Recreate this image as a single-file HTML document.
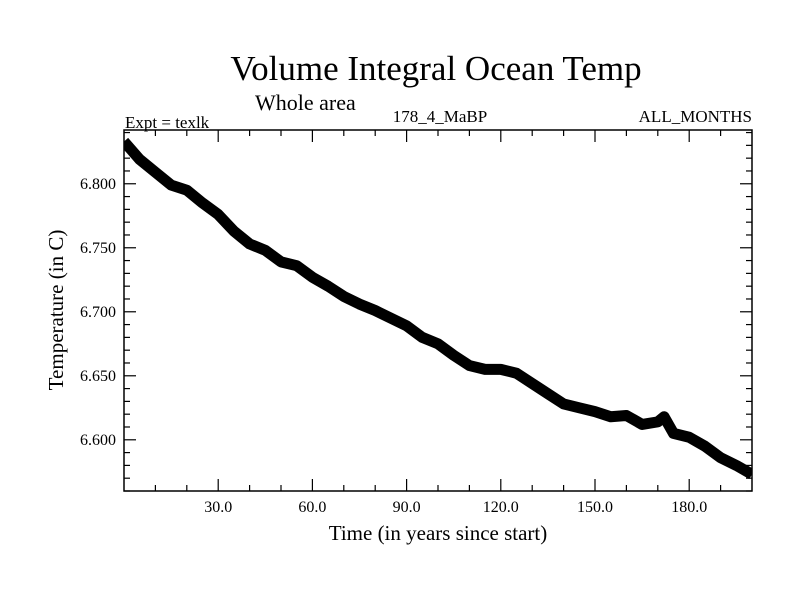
<!DOCTYPE html>
<html><head><meta charset="utf-8"><style>
body{margin:0;background:#fff}
svg text{font-family:"Liberation Serif",serif;fill:#000}
</style></head><body>
<svg id="chart" width="800" height="600" xmlns="http://www.w3.org/2000/svg">
<text x="436" y="80" font-size="35" text-anchor="middle">Volume Integral Ocean Temp</text>
<text x="255" y="110" font-size="22">Whole area</text>
<text x="125" y="128" font-size="17">Expt = texlk</text>
<text x="440" y="122" font-size="17" text-anchor="middle">178_4_MaBP</text>
<text x="752" y="122" font-size="17" text-anchor="end">ALL_MONTHS</text>
<text x="438" y="540" font-size="21" text-anchor="middle">Time (in years since start)</text>
<text transform="translate(63,310) rotate(-90)" font-size="21" text-anchor="middle">Temperature (in C)</text>
<g id="ticks"></g>
<g id="series"></g>
<rect x="124" y="130" width="628" height="361" fill="none" stroke="#000" stroke-width="1.5"/>
</svg>
<script>
const years=[0,5,10,15,20,25,30,35,40,45,50,55,60,65,70,75,80,85,90,95,100,105,110,115,120,125,130,135,140,145,150,155,160,165,170,172,175,180,185,190,195,200];
const temps=[6.833,6.819,6.809,6.799,6.795,6.785,6.776,6.763,6.753,6.748,6.739,6.736,6.727,6.720,6.712,6.706,6.701,6.695,6.689,6.680,6.675,6.666,6.658,6.655,6.655,6.652,6.644,6.636,6.628,6.625,6.622,6.618,6.619,6.612,6.614,6.618,6.605,6.602,6.595,6.586,6.580,6.573];
const xTicks=[30,60,90,120,150,180];
const yTicks=[6.600,6.650,6.700,6.750,6.800];
const X0=124,X1=752,Y0=491,Y1=130,xmin=0,xmax=200,ymin=6.560,ymax=6.842;
const sx=v=>X0+(v-xmin)/(xmax-xmin)*(X1-X0);
const sy=v=>Y0-(v-ymin)/(ymax-ymin)*(Y0-Y1);
const NS='http://www.w3.org/2000/svg';
const tg=document.getElementById('ticks'),sg=document.getElementById('series');
function ln(x1,y1,x2,y2,name){const l=document.createElementNS(NS,'line');l.setAttribute('x1',x1);l.setAttribute('y1',y1);l.setAttribute('x2',x2);l.setAttribute('y2',y2);l.setAttribute('stroke','#000');l.setAttribute('stroke-width','1.2');


tg.appendChild(l);}
for(let v=10;v<xmax;v+=10){const x=sx(v);const L=(v%30===0)?12:6;ln(x,Y0,x,Y0-L,'x-tick');ln(x,Y1,x,Y1+L,'x-tick-top');}
for(let k=Math.ceil(ymin*100);k<=Math.floor(ymax*100);k++){const y=sy(k/100);const L=(k%5===0)?12:6;ln(X0,y,X0+L,y,'y-tick');ln(X1,y,X1-L,y,'y-tick-right');}
xTicks.forEach(v=>{const t=document.createElementNS(NS,'text');t.setAttribute('x',sx(v));t.setAttribute('y',Y0+21);t.setAttribute('font-size','16');t.setAttribute('text-anchor','middle');t.textContent=v.toFixed(1);


tg.appendChild(t);});
yTicks.forEach(v=>{const t=document.createElementNS(NS,'text');t.setAttribute('x',X0-8);t.setAttribute('y',sy(v)+5);t.setAttribute('font-size','16');t.setAttribute('text-anchor','end');t.textContent=v.toFixed(3);


tg.appendChild(t);});
const p=document.createElementNS(NS,'polyline');
p.setAttribute('points',years.map((y,i)=>sx(y)+','+sy(temps[i])).join(' '));
p.setAttribute('fill','none');p.setAttribute('stroke','#000');p.setAttribute('stroke-width','11');p.setAttribute('stroke-linejoin','round');


sg.appendChild(p);
const cp=document.createElementNS(NS,'clipPath');cp.setAttribute('id','clip');const r=document.createElementNS(NS,'rect');r.setAttribute('x',X0);r.setAttribute('y',Y1);r.setAttribute('width',X1-X0);r.setAttribute('height',Y0-Y1);cp.appendChild(r);document.getElementById('chart').appendChild(cp);
sg.setAttribute('clip-path','url(#clip)');
</script>
</body></html>
